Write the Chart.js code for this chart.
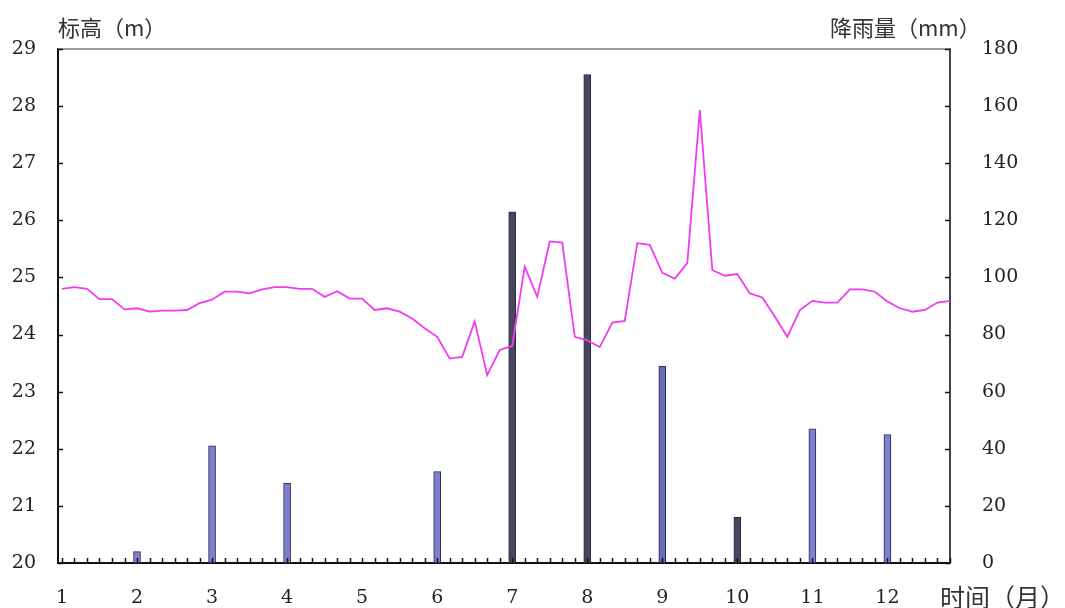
<!DOCTYPE html>
<html>
<head>
<meta charset="utf-8">
<script src="https://cdn.jsdelivr.net/npm/chart.js@4/dist/chart.umd.min.js"></script>
<style>
  html, body { margin: 0; padding: 0; background: #fff; }
  #wrap { width: 1065px; height: 608px; }
</style>
</head>
<body>
<div id="wrap"><canvas id="grafico" width="1065" height="608"></canvas></div>
<script>
// meses del eje x
const meses = [1, 2, 3, 4, 5, 6, 7, 8, 9, 10, 11, 12];
// lluvia mensual (mm)
const lluvia = [0, 4, 41, 28, 0, 32, 123, 171, 69, 16, 47, 45];
// colores de cada barra
const colorBarras = ['#7f7fd0', '#7f7fd0', '#7f7fd0', '#7f7fd0', '#7f7fd0', '#7f7fd0',
                     '#46465e', '#46465e', '#6a6ab8', '#46465e', '#7f7fd0', '#7f7fd0'];
// cota del agua (m), una lectura cada 5 dias (6 por mes)
const cota = [
  24.80, 24.83, 24.80, 24.62, 24.62, 24.44,
  24.46, 24.40, 24.42, 24.42, 24.43, 24.55,
  24.61, 24.75, 24.75, 24.72, 24.79, 24.83,
  24.83, 24.80, 24.80, 24.66, 24.76, 24.63,
  24.63, 24.43, 24.46, 24.40, 24.28, 24.11,
  23.96, 23.58, 23.61, 24.23, 23.29, 23.73,
  23.80, 25.19, 24.66, 25.63, 25.61, 23.96,
  23.90, 23.78, 24.21, 24.24, 25.60, 25.57,
  25.08, 24.98, 25.25, 27.93, 25.13, 25.03,
  25.06, 24.72, 24.65, 24.31, 23.96, 24.43,
  24.59, 24.56, 24.56, 24.79, 24.79, 24.75,
  24.58, 24.46, 24.40, 24.43, 24.56, 24.59
];
const lecturasPorMes = 6;
const ticksIzq = [20, 21, 22, 23, 24, 25, 26, 27, 28, 29];
const ticksDer = [0, 20, 40, 60, 80, 100, 120, 140, 160, 180];

const fuenteNum = { family: '"DejaVu Serif", "Liberation Serif", serif', size: 19 };
const fuenteCJK = '"Noto Sans CJK SC", "Noto Sans CJK JP", sans-serif';

const puntosCota = cota.map((v, i) => ({ x: meses[0] + i / lecturasPorMes, y: v }));
const puntosLluvia = meses.map((m, i) => ({ x: m, y: lluvia[i] }));

// marcas hacia dentro, borde superior y textos de ejes
const marcasPlugin = {
  id: 'marcas',
  afterDraw(chart) {
    const ctx = chart.ctx;
    const area = chart.chartArea;
    const sx = chart.scales.x, sy = chart.scales.y, sy1 = chart.scales.y1;
    ctx.save();
    ctx.lineWidth = 2;
    ctx.strokeStyle = '#9a9a9a';
    ctx.beginPath();
    ctx.moveTo(area.left, area.top);
    ctx.lineTo(area.right, area.top);
    ctx.stroke();

    ctx.strokeStyle = '#111';
    ctx.lineWidth = 1.5;
    ctx.beginPath();
    ticksIzq.forEach(v => {
      const y = Math.round(sy.getPixelForValue(v)) + 0.5;
      ctx.moveTo(area.left, y);
      ctx.lineTo(area.left + 5, y);
    });
    ticksDer.forEach(v => {
      const y = Math.round(sy1.getPixelForValue(v)) + 0.5;
      ctx.moveTo(area.right - 5, y);
      ctx.lineTo(area.right, y);
    });
    for (let i = 0; i < cota.length; i++) {
      const x = Math.round(sx.getPixelForValue(meses[0] + i / lecturasPorMes)) + 0.5;
      ctx.moveTo(x, area.bottom);
      ctx.lineTo(x, area.bottom - 5);
    }
    ctx.stroke();

    ctx.fillStyle = '#333';
    ctx.textBaseline = 'middle';
    ctx.textAlign = 'left';
    ctx.font = '22px ' + fuenteCJK;
    ctx.fillText('标高（m）', 58, 28);
    ctx.fillText('降雨量（mm）', 830, 28);
    ctx.font = '25px ' + fuenteCJK;
    ctx.fillText('时间（月）', 940, 597);
    ctx.restore();
  }
};

const ctx = document.getElementById('grafico').getContext('2d');
new Chart(ctx, {
  type: 'bar',
  data: {
    datasets: [
      {
        type: 'line',
        data: puntosCota,
        yAxisID: 'y',
        borderColor: '#f03cf0',
        borderWidth: 1.8,
        pointRadius: 0,
        tension: 0,
        order: 1
      },
      {
        type: 'bar',
        data: puntosLluvia,
        yAxisID: 'y1',
        backgroundColor: colorBarras,
        borderColor: '#2a2a48',
        borderWidth: 1,
        borderSkipped: false,
        barThickness: 7,
        order: 2
      }
    ]
  },
  options: {
    responsive: false,
    animation: false,
    layout: { padding: { top: 49, left: 0, right: 0, bottom: 0 } },
    plugins: { legend: { display: false }, tooltip: { enabled: false } },
    scales: {
      x: {
        type: 'linear',
        offset: false,
        min: 0.947,
        max: 12.834,
        grid: { display: false, drawTicks: false, offset: false },
        border: { display: true, color: '#111', width: 2 },
        afterBuildTicks: s => { s.ticks = meses.map(v => ({ value: v })); },
        afterFit: s => { s.height = 45; },
        ticks: { font: fuenteNum, color: '#222', padding: 24, maxRotation: 0, autoSkip: false }
      },
      y: {
        position: 'left',
        min: 20,
        max: 29,
        grid: { display: false, drawTicks: false },
        border: { display: true, color: '#111', width: 2 },
        afterBuildTicks: s => { s.ticks = ticksIzq.map(v => ({ value: v })); },
        afterFit: s => { s.width = 58; },
        ticks: { font: fuenteNum, color: '#222', padding: 22 }
      },
      y1: {
        position: 'right',
        min: 0,
        max: 180,
        grid: { display: false, drawTicks: false },
        border: { display: true, color: '#444', width: 2 },
        afterBuildTicks: s => { s.ticks = ticksDer.map(v => ({ value: v })); },
        afterFit: s => { s.width = 115; },
        ticks: { font: fuenteNum, color: '#222', padding: 32 }
      }
    }
  },
  plugins: [marcasPlugin]
});
</script>
</body>
</html>
